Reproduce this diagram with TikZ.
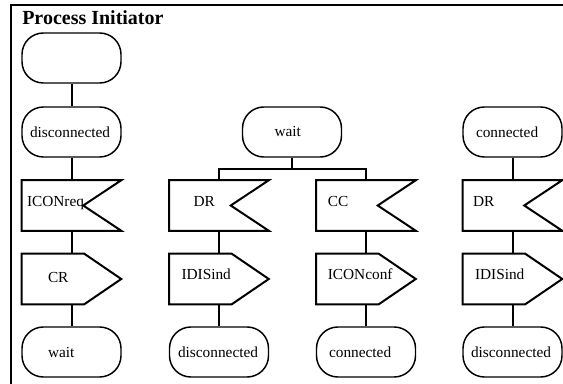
\documentclass[tikz,border=0pt]{standalone}
\usepackage{fontspec}
\setmainfont{Liberation Serif}
\usetikzlibrary{calc}

\tikzset{
  state/.style={draw, line width=1.1pt, rounded corners=16pt, minimum height=37.5pt,
    inner ysep=0pt, inner xsep=#1, text width=74.25pt-2*#1, align=left},
  state/.default=6pt,
  sdlbox/.style={minimum height=37.5pt, inner ysep=0pt, inner xsep=#1,
    text width=74.25pt-2*#1, align=left, text height=8pt, text depth=6.5pt},
  boxline/.style={line width=1.5pt, line join=miter},
  link/.style={line width=1.5pt},
}

% input symbol: notch cut into the right side
\newcommand{\inputsig}[1]{%
  \draw[boxline] (#1.north west) -- (#1.north east) -- ($(#1.east)+(-38,0)$)
    -- (#1.south east) -- (#1.south west) -- cycle;}
% output symbol: point on the right side
\newcommand{\outputsig}[1]{%
  \draw[boxline] (#1.north west) -- ($(#1.north east)+(-37,0)$) -- (#1.east)
    -- ($(#1.south east)+(-37,0)$) -- (#1.south west) -- cycle;}

\begin{document}
\begin{tikzpicture}[x=0.75pt, y=-0.75pt, font=\fontsize{11.5}{13.8}\selectfont]
  \useasboundingbox (0,0) rectangle (563,384);

  % frame and title
  \draw[line width=1pt] (563,5) -- (11,5) -- (11,384);
  \node[anchor=base west, inner sep=0pt, font=\bfseries\fontsize{15}{18}\selectfont]
    (title) at (22,25) {Process Initiator};

  % left branch
  \node[state] (start) at (71.5,58) {};
  \node[state=6pt] (disc1) at (71.5,132) {disconnected};
  \node[sdlbox=3.75pt] (iconreq) at (71.5,205.5) {ICONreq};
  \node[sdlbox=19.5pt, text depth=3pt] (cr) at (71.5,279) {CR};
  \node[state=19.5pt] (wait1) at (71.5,352) {wait};

  % middle branches
  \node[state=24pt] (wait2) at (292,132) {wait};
  \node[sdlbox=18pt] (dr1) at (219,205.5) {DR};
  \node[sdlbox=9pt] (idis1) at (219,279) {IDISind};
  \node[state=6.4pt] (disc2) at (219,352) {disconnected};
  \node[sdlbox=8.5pt] (cc) at (366,205.5) {CC};
  \node[sdlbox=8.5pt] (iconconf) at (366,279) {ICONconf};
  \node[state=9.4pt] (conn2) at (366,352) {connected};

  % right branch
  \node[state=9.75pt] (conn3) at (512.5,132) {connected};
  \node[sdlbox=7.5pt] (dr2) at (512.5,205.5) {DR};
  \node[sdlbox=9pt] (idis2) at (512.5,279) {IDISind};
  \node[state=6pt] (disc3) at (512.5,352) {disconnected};

  \inputsig{iconreq}
  \inputsig{dr1}
  \inputsig{cc}
  \inputsig{dr2}
  \outputsig{cr}
  \outputsig{idis1}
  \outputsig{iconconf}
  \outputsig{idis2}

  % connections
  \draw[link] (start) -- (disc1) -- (iconreq) -- (cr) -- (wait1);
  \coordinate (fork) at (292,169);
  \draw[link] (wait2) -- (fork);
  \draw[link] (dr1.north) |- (fork) -| (cc.north);
  \draw[link] (dr1) -- (idis1) -- (disc2);
  \draw[link] (cc) -- (iconconf) -- (conn2);
  \draw[link] (conn3) -- (dr2) -- (idis2) -- (disc3);
\end{tikzpicture}
\end{document}
